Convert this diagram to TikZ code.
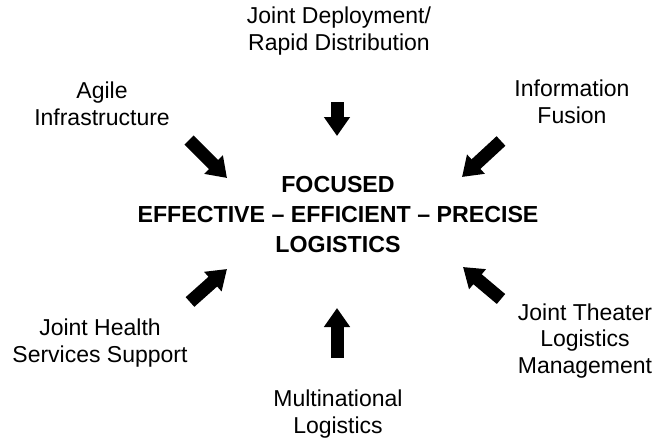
\documentclass[tikz,border=0pt]{standalone}
\usepackage{fontspec}
\setmainfont{Liberation Sans}
\usetikzlibrary{arrows.meta}
\begin{document}
\begin{tikzpicture}[x=1pt,y=-1pt,
  lbl/.style={align=center,font=\fontsize{23}{26.5}\selectfont,inner sep=0pt},
  ctr/.style={align=center,font=\fontsize{23.2}{30}\selectfont\bfseries,inner sep=0pt},
  blk/.style={line width=13pt,-{Triangle[length=19pt,width=25pt]}}]
\useasboundingbox (0,0) rectangle (654,439);
\node[ctr] (c) at (338,215) {FOCUSED\\EFFECTIVE -- EFFICIENT -- PRECISE\\LOGISTICS};
\node[lbl] (t) at (339,31) {Joint Deployment/\\Rapid Distribution};
\node[lbl] (ul) at (102,104) {Agile\\Infrastructure};
\node[lbl] (ur) at (572,102) {Information\\Fusion};
\node[lbl] (ll) at (100,343) {Joint Health\\Services Support};
\node[lbl] (lr) at (585,341) {Joint Theater\\Logistics\\Management};
\node[lbl] (b) at (338,414) {Multinational\\Logistics};
\coordinate (t1) at (337,102); \coordinate (t2) at (337,136);
\coordinate (b1) at (337,358); \coordinate (b2) at (337,308);
\coordinate (ul1) at (189,140); \coordinate (ul2) at (227,178);
\coordinate (ur1) at (501,141); \coordinate (ur2) at (462,177);
\coordinate (ll1) at (190,302); \coordinate (ll2) at (227,269);
\coordinate (lr1) at (501,299); \coordinate (lr2) at (463,267);
\draw[blk] (t1) -- (t2);
\draw[blk] (b1) -- (b2);
\draw[blk] (ul1) -- (ul2);
\draw[blk] (ur1) -- (ur2);
\draw[blk] (ll1) -- (ll2);
\draw[blk] (lr1) -- (lr2);
\end{tikzpicture}
\end{document}
